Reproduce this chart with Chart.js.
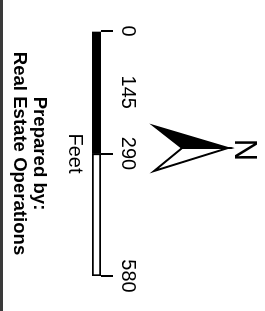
<!DOCTYPE html>
<html>
<head>
<meta charset="utf-8">
<script src="https://cdn.jsdelivr.net/npm/chart.js@4/dist/chart.umd.min.js"></script>
<style>
    html, body { margin: 0; padding: 0; background: #fff; overflow: hidden; }
    body { width: 265px; height: 311px; position: relative; }
    /* the whole scale is laid out upright, then turned a quarter clockwise */
    #wrap {
        position: absolute; left: 0; top: 0;
        width: 311px; height: 265px;
        transform-origin: 0 0;
        transform: translate(265px, 0) rotate(90deg);
    }
</style>
</head>
<body>
<div id="wrap"><canvas id="scaleBar" width="311" height="265"></canvas></div>
<script>
// Scale bar data
const scaleTicks = [0, 145, 290, 580];
const tickLabels = ['0', '145', '290', '580'];
const markedTicks = [0, 290, 580];   // ticks that get a tick mark
const blackSegment = [0, 290];
const whiteSegment = [290, 580];
const unitLabel = 'Feet';
const creditLines = ['Prepared by:', 'Real Estate Operations'];

Chart.defaults.font.family = '"Liberation Sans", Arial, sans-serif';
Chart.defaults.color = '#000';

// north arrow, "N" and frame line are decoration, drawn after the chart
const northArrow = {
    id: 'northArrow',
    afterDraw(chart) {
        const ctx = chart.ctx;
        ctx.save();

        ctx.fillStyle = '#3a3a3a';
        ctx.fillRect(0, 262, chart.width, 3);

        const tip = [148, 37], left = [126, 111], right = [171, 111], notch = [148, 83];
        ctx.lineJoin = 'miter';
        ctx.lineWidth = 2;
        ctx.strokeStyle = '#000';

        ctx.beginPath();
        ctx.moveTo(...tip); ctx.lineTo(...left); ctx.lineTo(...notch); ctx.closePath();
        ctx.fillStyle = '#000';
        ctx.fill();
        ctx.stroke();

        ctx.beginPath();
        ctx.moveTo(...tip); ctx.lineTo(...right); ctx.lineTo(...notch); ctx.closePath();
        ctx.fillStyle = '#fff';
        ctx.fill();
        ctx.stroke();

        ctx.fillStyle = '#000';
        ctx.font = '31px "Liberation Sans", Arial, sans-serif';
        ctx.textAlign = 'center';
        ctx.textBaseline = 'alphabetic';
        ctx.fillText('N', 150, 30);
        ctx.restore();
    }
};

new Chart(document.getElementById('scaleBar'), {
    type: 'bar',
    data: {
        labels: [unitLabel],
        datasets: [{
            data: [blackSegment],
            backgroundColor: '#000',
            borderWidth: 0
        }, {
            data: [whiteSegment],
            backgroundColor: '#fff',
            borderColor: '#000',
            borderWidth: 2,
            borderSkipped: false
        }]
    },
    options: {
        indexAxis: 'y',
        responsive: false,
        animation: false,
        devicePixelRatio: 1,
        grouped: false,
        barPercentage: 1,
        categoryPercentage: 1,
        layout: {
            padding: { top: 122, left: 31, right: 35, bottom: 9 }
        },
        plugins: {
            legend: { display: false },
            tooltip: { enabled: false },
            subtitle: {
                display: true,
                position: 'bottom',
                text: unitLabel,
                font: { size: 20, weight: 'normal' },
                padding: { top: 5, bottom: 0 }
            },
            title: {
                display: true,
                position: 'bottom',
                text: creditLines,
                font: { size: 18.6, weight: 'bold', lineHeight: '20px' },
                padding: { top: 14, bottom: 0 }
            }
        },
        scales: {
            x: {
                type: 'linear',
                position: 'top',
                min: scaleTicks[0],
                max: scaleTicks[scaleTicks.length - 1],
                afterBuildTicks: scale => {
                    scale.ticks = scaleTicks.map(v => ({ value: v }));
                },
                ticks: {
                    padding: 3,
                    font: { size: 20 },
                    callback: value => tickLabels[scaleTicks.indexOf(value)]
                },
                grid: {
                    drawOnChartArea: false,
                    drawTicks: true,
                    tickLength: 12,
                    lineWidth: 2,
                    color: ctx => markedTicks.includes(ctx.tick && ctx.tick.value) ? '#000' : 'rgba(0,0,0,0)'
                },
                border: { display: false }
            },
            y: { display: false }
        }
    },
    plugins: [northArrow]
});
</script>
</body>
</html>
